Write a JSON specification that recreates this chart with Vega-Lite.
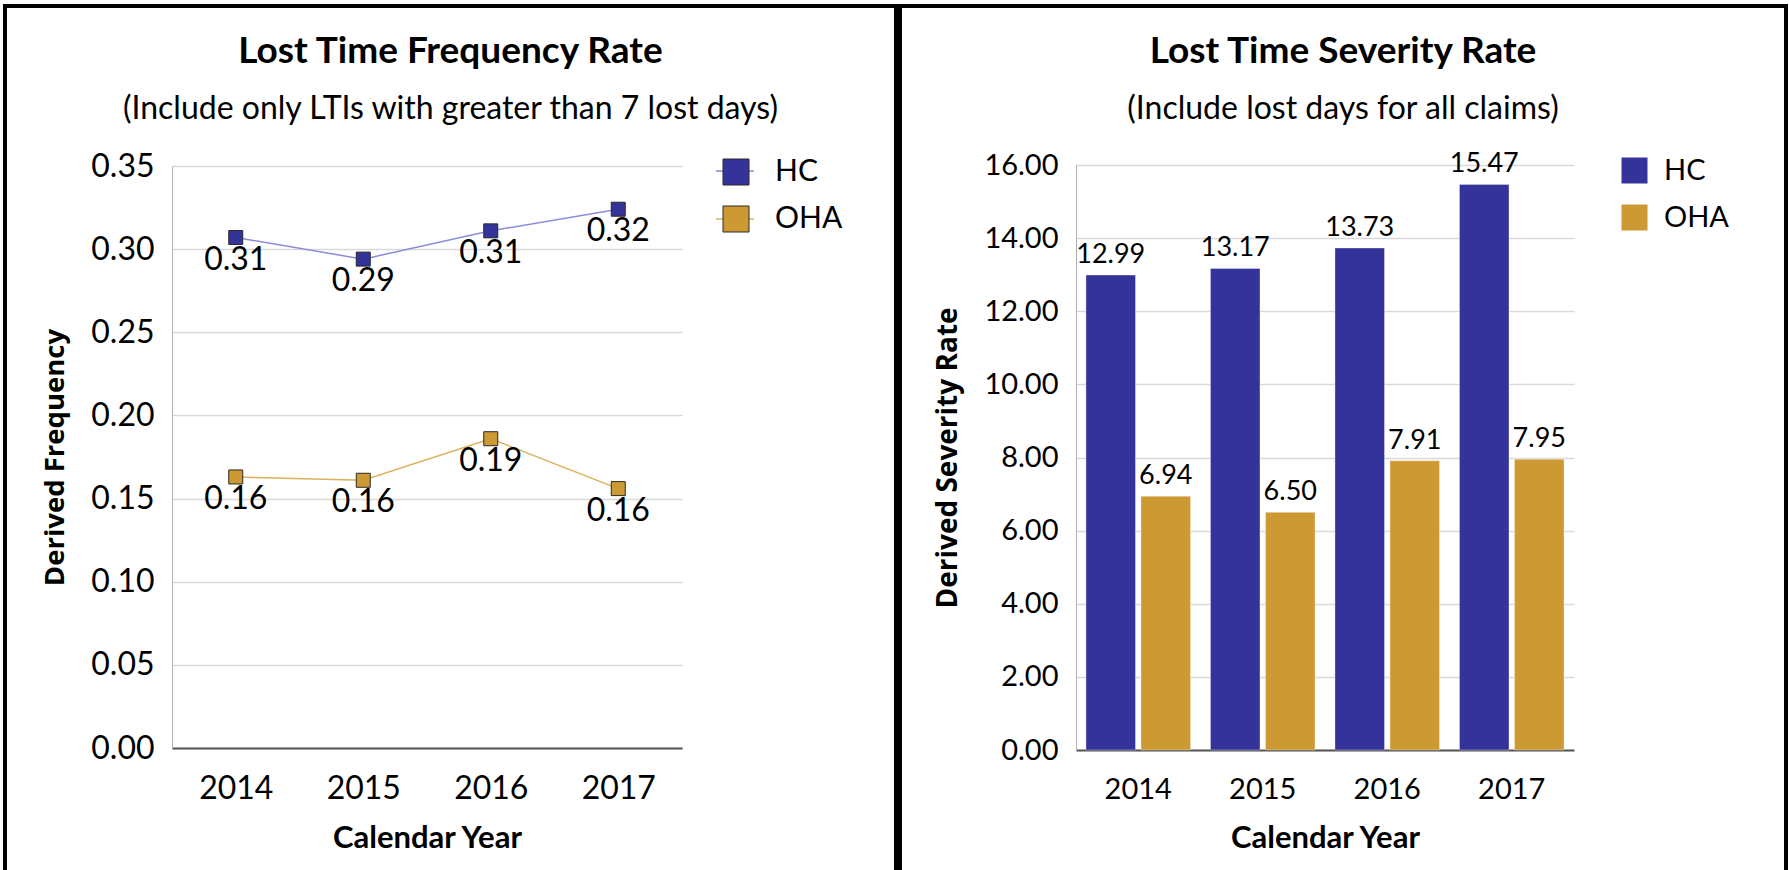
{
  "$schema": "https://vega.github.io/schema/vega-lite/v6.json",
  "padding": {"left": 3, "top": 4, "right": 0, "bottom": 0},
  "background": "white",
  "spacing": 0,
  "config": {
    "font": "Lato",
    "view": {"stroke": "black", "strokeWidth": 4},
    "axis": {"labelFont": "Lato", "labelColor": "#000000", "titleColor": "#000000", "ticks": false, "tickSize": 0, "gridColor": "#d9d9d9", "gridWidth": 1.5},
    "legend": {"labelFont": "Lato", "labelColor": "#000000"}
  },
  "resolve": {
    "scale": {"x": "independent", "y": "independent", "fill": "independent", "stroke": "independent"},
    "axis": {"x": "independent", "y": "independent"},
    "legend": {"fill": "independent", "stroke": "independent"}
  },
  "hconcat": [
    {
      "width": 891,
      "height": 870,
      "title": {
        "text": "Lost Time Frequency Rate",
        "subtitle": "(Include only LTIs with greater than 7 lost days)",
        "anchor": "middle",
        "offset": -120,
        "font": "Lato",
        "fontSize": 37,
        "fontWeight": "bold",
        "color": "#000000",
        "subtitleFont": "Lato",
        "subtitleFontSize": 32,
        "subtitleColor": "#000000",
        "subtitlePadding": 23
      },
      "data": {
        "values": [
          {"year": "2014", "series": "HC", "value": 0.307},
          {"year": "2015", "series": "HC", "value": 0.294},
          {"year": "2016", "series": "HC", "value": 0.311},
          {"year": "2017", "series": "HC", "value": 0.324},
          {"year": "2014", "series": "OHA", "value": 0.163},
          {"year": "2015", "series": "OHA", "value": 0.161},
          {"year": "2016", "series": "OHA", "value": 0.186},
          {"year": "2017", "series": "OHA", "value": 0.156}
        ]
      },
      "encoding": {
        "x": {
          "field": "year",
          "type": "ordinal",
          "scale": {"type": "point", "range": [167, 677], "padding": 0.5},
          "axis": {
            "title": "Calendar Year",
            "labelAngle": 0,
            "labelFontSize": 32,
            "labelPadding": 25,
            "offset": -128,
            "domainColor": "#555555",
            "domainWidth": 2,
            "grid": false,
            "titleFont": "Lato",
            "titleFontSize": 31,
            "titleFontWeight": "bold",
            "titlePadding": 19
          }
        },
        "y": {
          "field": "value",
          "type": "quantitative",
          "scale": {"domain": [0, 0.35], "range": [742, 160], "nice": false, "zero": true},
          "axis": {
            "title": "Derived Frequency",
            "values": [0, 0.05, 0.1, 0.15, 0.2, 0.25, 0.3, 0.35],
            "format": ".2f",
            "labelFontSize": 32,
            "labelPadding": 18,
            "offset": -167,
            "domainColor": "#b0b0b0",
            "domainWidth": 1,
            "grid": true,
            "titleFont": "Open Sans",
            "titleFontSize": 27.5,
            "titleFontWeight": "bold",
            "titlePadding": 21
          }
        }
      },
      "layer": [
        {
          "mark": {"type": "line", "strokeWidth": 1.5},
          "encoding": {
            "stroke": {
              "field": "series",
              "type": "nominal",
              "scale": {"range": ["#8c8cd9", "#dcb25c"]},
              "legend": {
                "orient": "none",
                "legendX": 710,
                "legendY": 145,
                "title": null,
                "symbolType": "stroke",
                "symbolSize": 1444,
                "symbolStrokeWidth": 1.5,
                "labelExpr": "' '",
                "labelFontSize": 30,
                "labelOffset": 12,
                "rowPadding": 13,
                "zindex": 1
              }
            }
          }
        },
        {
          "mark": {"type": "point", "shape": "square", "filled": true, "size": 196, "stroke": "#2a2a2a", "strokeWidth": 1, "opacity": 1},
          "encoding": {
            "fill": {
              "field": "series",
              "type": "nominal",
              "scale": {"domain": ["HC", "OHA"], "range": ["#333399", "#cc9933"]},
              "legend": {
                "orient": "none",
                "legendX": 716,
                "legendY": 151,
                "title": null,
                "symbolType": "square",
                "symbolSize": 676,
                "symbolStrokeColor": "#2a2a2a",
                "symbolStrokeWidth": 1,
                "symbolOpacity": 1,
                "labelFontSize": 30,
                "labelOffset": 24,
                "rowPadding": 17,
                "zindex": 2
              }
            }
          }
        },
        {
          "mark": {"type": "text", "dy": 32, "baseline": "alphabetic", "fontSize": 32, "font": "Lato", "color": "#000000"},
          "encoding": {"text": {"field": "value", "type": "quantitative", "format": ".2f"}}
        }
      ]
    },
    {
      "width": 886,
      "height": 870,
      "title": {
        "text": "Lost Time Severity Rate",
        "subtitle": "(Include lost days for all claims)",
        "anchor": "middle",
        "offset": -120,
        "font": "Lato",
        "fontSize": 37,
        "fontWeight": "bold",
        "color": "#000000",
        "subtitleFont": "Lato",
        "subtitleFontSize": 32,
        "subtitleColor": "#000000",
        "subtitlePadding": 23
      },
      "data": {
        "values": [
          {"year": "2014", "series": "HC", "value": 12.99},
          {"year": "2015", "series": "HC", "value": 13.17},
          {"year": "2016", "series": "HC", "value": 13.73},
          {"year": "2017", "series": "HC", "value": 15.47},
          {"year": "2014", "series": "OHA", "value": 6.94},
          {"year": "2015", "series": "OHA", "value": 6.50},
          {"year": "2016", "series": "OHA", "value": 7.91},
          {"year": "2017", "series": "OHA", "value": 7.95}
        ]
      },
      "encoding": {
        "x": {
          "field": "year",
          "type": "ordinal",
          "scale": {"type": "band", "range": [176, 674], "paddingInner": 0.16, "paddingOuter": 0.08},
          "axis": {
            "title": "Calendar Year",
            "labelAngle": 0,
            "labelFontSize": 29,
            "labelPadding": 25,
            "offset": -126,
            "domainColor": "#555555",
            "domainWidth": 2,
            "grid": false,
            "titleFont": "Lato",
            "titleFontSize": 31,
            "titleFontWeight": "bold",
            "titlePadding": 19
          }
        },
        "xOffset": {
          "field": "series",
          "type": "nominal",
          "scale": {"domain": ["HC", "OHA"], "paddingInner": 0.1}
        },
        "y": {
          "field": "value",
          "type": "quantitative",
          "scale": {"domain": [0, 16], "range": [744, 159], "nice": false, "zero": true},
          "axis": {
            "title": "Derived Severity Rate",
            "values": [0, 2, 4, 6, 8, 10, 12, 14, 16],
            "format": ".2f",
            "labelFontSize": 29,
            "labelPadding": 18,
            "offset": -176,
            "domainColor": "#b0b0b0",
            "domainWidth": 1,
            "grid": true,
            "titleFont": "Open Sans",
            "titleFontSize": 28,
            "titleFontWeight": "bold",
            "titlePadding": 21
          }
        }
      },
      "layer": [
        {
          "mark": {"type": "bar", "stroke": "#ffffff", "strokeOpacity": 0.35, "strokeWidth": 1},
          "encoding": {
            "fill": {
              "field": "series",
              "type": "nominal",
              "scale": {"domain": ["HC", "OHA"], "range": ["#333399", "#cc9933"]},
              "legend": {
                "orient": "none",
                "legendX": 720,
                "legendY": 150,
                "title": null,
                "symbolType": "square",
                "symbolSize": 676,
                "symbolStrokeWidth": 0,
                "symbolOpacity": 1,
                "labelFontSize": 29,
                "labelOffset": 15,
                "rowPadding": 17
              }
            }
          }
        },
        {
          "mark": {"type": "text", "dy": -12, "baseline": "alphabetic", "fontSize": 27, "font": "Lato", "color": "#000000"},
          "encoding": {"text": {"field": "value", "type": "quantitative", "format": ".2f"}}
        }
      ]
    }
  ]
}
